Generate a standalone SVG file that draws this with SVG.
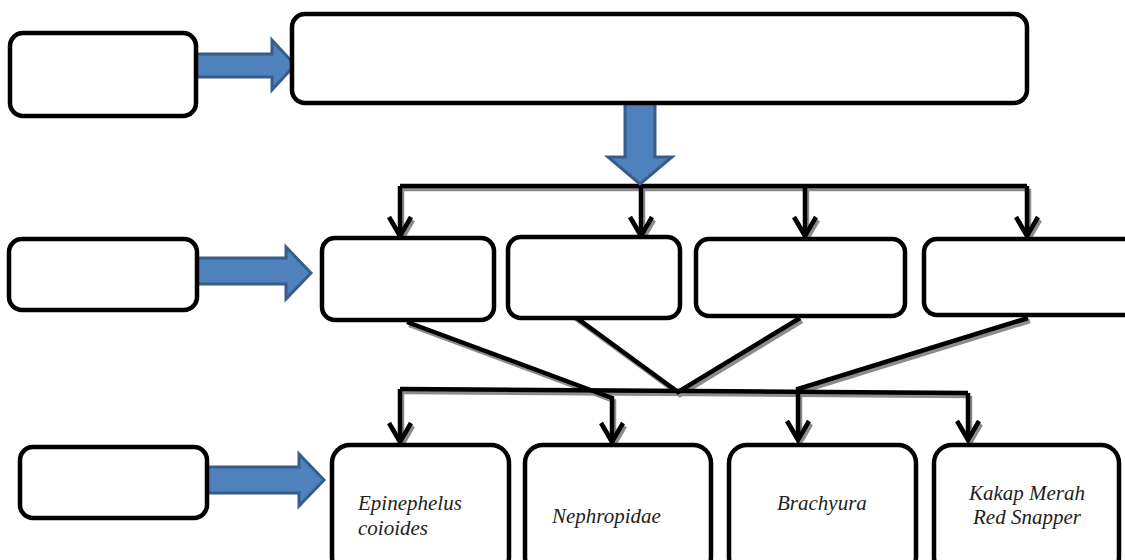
<svg xmlns="http://www.w3.org/2000/svg" width="1125" height="560" viewBox="0 0 1125 560">
<style>
.box{fill:#fff;stroke:#000;stroke-width:4.5}
.blk{fill:#4F81BD;stroke:#385D8A;stroke-width:3;stroke-linejoin:miter}
.ln{fill:none;stroke:#000;stroke-width:4.5;stroke-linejoin:miter}
.t{font-family:"Liberation Serif","Times New Roman",serif;font-style:italic;font-size:21px;fill:#222}
</style>
<defs>
<marker id="v" markerUnits="userSpaceOnUse" markerWidth="30" markerHeight="30" viewBox="-22 -15 30 30" refX="0" refY="0" orient="auto">
<path d="M-19,-11 L0,0 L-19,11" fill="none" stroke="#000" stroke-width="4.5"/>
</marker>
<filter id="sh" x="-10%" y="-10%" width="120%" height="130%">
<feDropShadow dx="2" dy="3" stdDeviation="0.7" flood-color="#000" flood-opacity="0.45"/>
</filter>
</defs>
<rect width="1125" height="560" fill="#fff"/>

<g id="connectors" filter="url(#sh)">
<path class="ln" d="M400,186 H1027"/>
<path class="ln" d="M400,186 V236" marker-end="url(#v)"/>
<path class="ln" d="M641,186 V236" marker-end="url(#v)"/>
<path class="ln" d="M805,186 V236" marker-end="url(#v)"/>
<path class="ln" d="M1027,186 V236" marker-end="url(#v)"/>
<path class="ln" d="M400,389 L968,393"/>
<path class="ln" d="M407,322 L612,398 V442" marker-end="url(#v)"/>
<path class="ln" d="M570,313 L678,392 L800,318"/>
<path class="ln" d="M1028,318 L798,389 V440" marker-end="url(#v)"/>
<path class="ln" d="M400,389 V442" marker-end="url(#v)"/>
<path class="ln" d="M968,393 V440" marker-end="url(#v)"/>
</g>

<g id="arrow-top"><path class="blk" d="M196,54 H272 V40 L295,65 L272,90 V77 H196 Z"/></g>
<g id="arrow-mid"><path class="blk" d="M196,258 H286 V247 L311,273 L286,299 V284 H196 Z"/></g>
<g id="arrow-bot"><path class="blk" d="M207,467 H299 V454 L324,480 L299,506 V493 H207 Z"/></g>
<g id="arrow-down"><path class="blk" d="M625,100 H655 V157 H672 L640,184 L608,157 H625 Z"/></g>

<g id="label-top"><rect class="box" x="10" y="33" width="186" height="83" rx="13"/></g>
<g id="main-top"><rect class="box" x="292" y="14" width="735" height="89" rx="13"/></g>
<g id="label-mid"><rect class="box" x="9" y="239" width="188" height="71" rx="13"/></g>
<g id="node-a"><rect class="box" x="322" y="238" width="172" height="82" rx="13"/></g>
<g id="node-b"><rect class="box" x="508" y="237" width="172" height="81" rx="13"/></g>
<g id="node-c"><rect class="box" x="696" y="239" width="209" height="77" rx="13"/></g>
<g id="node-d"><rect class="box" x="924" y="239" width="215" height="76" rx="13"/></g>
<g id="label-bot"><rect class="box" x="20" y="447" width="187" height="71" rx="13"/></g>

<g id="node-e"><rect class="box" x="332" y="445" width="177" height="130" rx="18"/>
<text class="t" x="358" y="510">Epinephelus</text><text class="t" x="358" y="535">coioides</text></g>
<g id="node-f"><rect class="box" x="525" y="445" width="186" height="130" rx="18"/>
<text class="t" x="552" y="523">Nephropidae</text></g>
<g id="node-g"><rect class="box" x="729" y="445" width="187" height="130" rx="18"/>
<text class="t" x="777" y="510">Brachyura</text></g>
<g id="node-h"><rect class="box" x="934" y="445" width="185" height="130" rx="18"/>
<text class="t" x="1027" y="500" text-anchor="middle">Kakap Merah</text><text class="t" x="1027" y="524" text-anchor="middle">Red Snapper</text></g>
</svg>
